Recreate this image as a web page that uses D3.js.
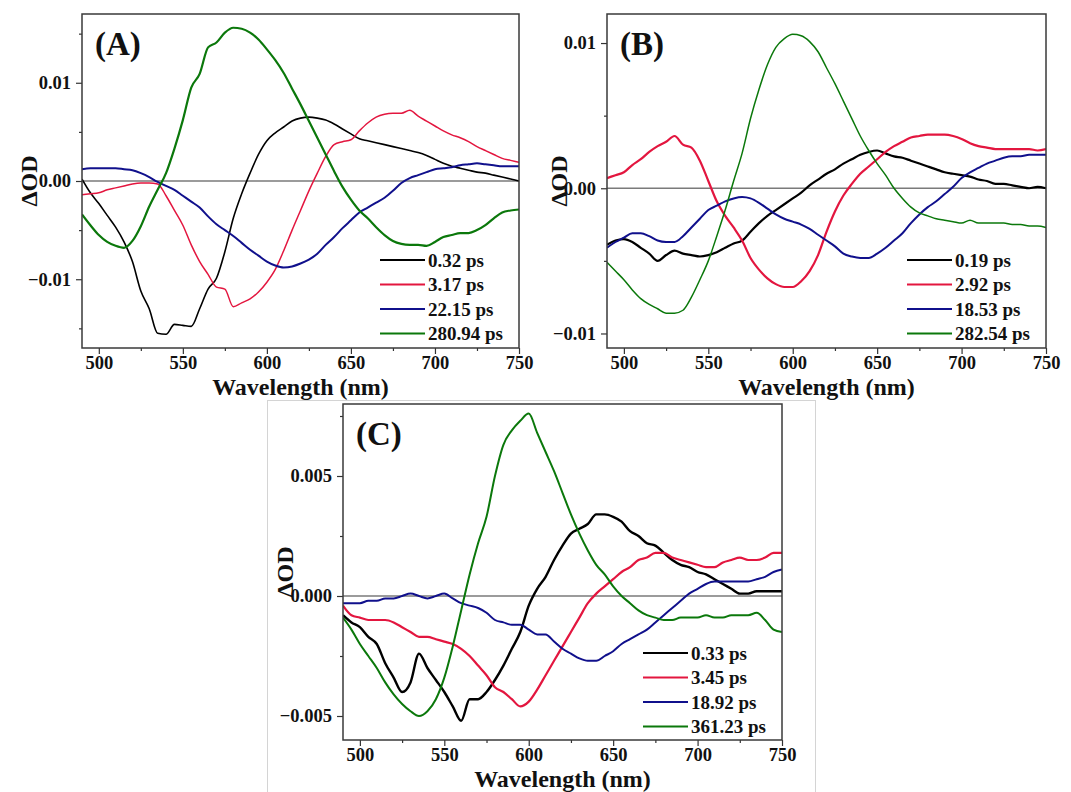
<!DOCTYPE html>
<html>
<head>
<meta charset="utf-8">
<script src="https://cdn.jsdelivr.net/npm/d3@7"></script>
<style>
  html, body { margin: 0; padding: 0; background: #ffffff; }
  svg { display: block; }
</style>
</head>
<body>
<svg id="chart" width="1071" height="792"></svg>
<script>
// ---------------- DATA ----------------
const wavelength = [490,495,500,505,510,515,520,525,530,535,540,545,550,555,560,565,570,575,580,585,590,595,600,605,610,615,620,625,630,635,640,645,650,655,660,665,670,675,680,685,690,695,700,705,710,715,720,725,730,735,740,745,750];

const xTickLabels = [500, 550, 600, 650, 700, 750];
const xMinorTicks = [525, 575, 625, 675, 725];

// Panel A
const labelsA = ["0.32 ps", "3.17 ps", "22.15 ps", "280.94 ps"];
const yTicksA = [-0.01, 0, 0.01];
const yMinorA = [-0.015, -0.005, 0.005, 0.015];
const a_0_32 = [0.0002,-0.0012,-0.0023,-0.0035,-0.0047,-0.0062,-0.0082,-0.0112,-0.0130,-0.0155,-0.0156,-0.0146,-0.0147,-0.0148,-0.0130,-0.0110,-0.0099,-0.0072,-0.0038,-0.0013,0.0008,0.0027,0.0041,0.0049,0.0055,0.0061,0.0064,0.0065,0.0064,0.0062,0.0058,0.0053,0.0048,0.0043,0.0041,0.0039,0.0037,0.0035,0.0033,0.0031,0.0029,0.0026,0.0022,0.0018,0.0015,0.0013,0.0011,0.0009,0.0008,0.0006,0.0004,0.0002,0.0000];
const a_3_17 = [-0.0014,-0.0013,-0.0012,-0.0009,-0.0007,-0.0005,-0.0003,-0.0002,-0.0002,-0.0003,-0.0015,-0.0030,-0.0045,-0.0065,-0.0082,-0.0095,-0.0108,-0.0110,-0.0128,-0.0124,-0.0120,-0.0113,-0.0103,-0.0090,-0.0071,-0.0050,-0.0030,-0.0010,0.0008,0.0025,0.0037,0.0040,0.0042,0.0051,0.0059,0.0065,0.0068,0.0069,0.0069,0.0072,0.0066,0.0061,0.0056,0.0051,0.0047,0.0044,0.0040,0.0035,0.0031,0.0027,0.0023,0.0021,0.0019];
const a_22_15 = [0.0012,0.0013,0.0013,0.0013,0.0013,0.0012,0.0011,0.0008,0.0004,-0.0001,-0.0005,-0.0009,-0.0015,-0.0021,-0.0027,-0.0036,-0.0044,-0.0050,-0.0056,-0.0063,-0.0070,-0.0076,-0.0082,-0.0086,-0.0088,-0.0087,-0.0084,-0.0080,-0.0074,-0.0065,-0.0057,-0.0048,-0.0040,-0.0032,-0.0027,-0.0022,-0.0017,-0.0010,-0.0002,0.0003,0.0006,0.0009,0.0012,0.0013,0.0014,0.0016,0.0017,0.0018,0.0017,0.0016,0.0015,0.0015,0.0015];
const a_280_94 = [-0.0034,-0.0045,-0.0055,-0.0062,-0.0066,-0.0068,-0.0061,-0.0046,-0.0026,-0.0009,0.0008,0.0033,0.0062,0.0095,0.0109,0.0136,0.0141,0.0151,0.0156,0.0155,0.0151,0.0144,0.0134,0.0123,0.0110,0.0094,0.0078,0.0061,0.0044,0.0027,0.0010,-0.0006,-0.0019,-0.0030,-0.0038,-0.0047,-0.0055,-0.0061,-0.0064,-0.0065,-0.0065,-0.0066,-0.0062,-0.0057,-0.0055,-0.0053,-0.0053,-0.0050,-0.0045,-0.0038,-0.0032,-0.0030,-0.0029];

// Panel B
const labelsB = ["0.19 ps", "2.92 ps", "18.53 ps", "282.54 ps"];
const yTicksB = [-0.01, 0, 0.01];
const yMinorB = [-0.005, 0.005];
const b_0_19 = [-0.0039,-0.0036,-0.0035,-0.0037,-0.0041,-0.0045,-0.0050,-0.0046,-0.0043,-0.0045,-0.0046,-0.0047,-0.0046,-0.0044,-0.0041,-0.0038,-0.0036,-0.0030,-0.0024,-0.0019,-0.0015,-0.0011,-0.0007,-0.0003,0.0002,0.0006,0.0010,0.0013,0.0017,0.0020,0.0023,0.0025,0.0026,0.0024,0.0022,0.0021,0.0019,0.0017,0.0015,0.0013,0.0011,0.0010,0.0009,0.0008,0.0006,0.0005,0.0003,0.0003,0.0002,0.0001,0.0000,0.0001,0.0000];
const b_2_92 = [0.0007,0.0009,0.0011,0.0016,0.0020,0.0025,0.0029,0.0032,0.0036,0.0030,0.0028,0.0019,0.0005,-0.0009,-0.0019,-0.0027,-0.0036,-0.0048,-0.0056,-0.0062,-0.0066,-0.0068,-0.0068,-0.0064,-0.0057,-0.0046,-0.0030,-0.0016,-0.0005,0.0003,0.0010,0.0015,0.0020,0.0025,0.0029,0.0032,0.0035,0.0036,0.0037,0.0037,0.0037,0.0036,0.0034,0.0031,0.0029,0.0028,0.0027,0.0027,0.0027,0.0027,0.0027,0.0026,0.0027];
const b_18_53 = [-0.0041,-0.0037,-0.0034,-0.0031,-0.0031,-0.0033,-0.0036,-0.0037,-0.0037,-0.0033,-0.0027,-0.0021,-0.0015,-0.0012,-0.0009,-0.0007,-0.0006,-0.0007,-0.0010,-0.0014,-0.0018,-0.0021,-0.0023,-0.0025,-0.0028,-0.0032,-0.0036,-0.0040,-0.0045,-0.0047,-0.0048,-0.0048,-0.0045,-0.0041,-0.0036,-0.0031,-0.0024,-0.0018,-0.0013,-0.0009,-0.0004,0.0001,0.0007,0.0011,0.0014,0.0017,0.0019,0.0021,0.0022,0.0022,0.0023,0.0023,0.0023];
const b_282_54 = [-0.0051,-0.0057,-0.0063,-0.0070,-0.0076,-0.0080,-0.0083,-0.0086,-0.0086,-0.0084,-0.0075,-0.0063,-0.0050,-0.0033,-0.0015,0.0005,0.0024,0.0048,0.0068,0.0085,0.0097,0.0103,0.0106,0.0105,0.0101,0.0094,0.0083,0.0072,0.0060,0.0048,0.0036,0.0026,0.0017,0.0009,0.0000,-0.0007,-0.0013,-0.0017,-0.0019,-0.0021,-0.0022,-0.0023,-0.0024,-0.0022,-0.0024,-0.0024,-0.0024,-0.0024,-0.0025,-0.0025,-0.0026,-0.0026,-0.0027];

// Panel C
const labelsC = ["0.33 ps", "3.45 ps", "18.92 ps", "361.23 ps"];
const yTicksC = [-0.005, 0, 0.005];
const yMinorC = [-0.0025, 0.0025, 0.0075];
const c_0_33 = [-0.0008,-0.0011,-0.0013,-0.0017,-0.0020,-0.0028,-0.0034,-0.0040,-0.0036,-0.0024,-0.0030,-0.0035,-0.0040,-0.0046,-0.0052,-0.0043,-0.0043,-0.0040,-0.0035,-0.0029,-0.0022,-0.0015,-0.0004,0.0003,0.0008,0.0015,0.0021,0.0026,0.0028,0.0030,0.0034,0.0034,0.0033,0.0031,0.0027,0.0025,0.0022,0.0021,0.0018,0.0015,0.0013,0.0012,0.0010,0.0009,0.0007,0.0005,0.0003,0.0001,0.0001,0.0002,0.0002,0.0002,0.0002];
const c_3_45 = [-0.0004,-0.0008,-0.0009,-0.0010,-0.0010,-0.0010,-0.0011,-0.0013,-0.0015,-0.0017,-0.0017,-0.0018,-0.0019,-0.0020,-0.0022,-0.0025,-0.0029,-0.0033,-0.0038,-0.0040,-0.0043,-0.0046,-0.0044,-0.0039,-0.0033,-0.0027,-0.0021,-0.0015,-0.0009,-0.0003,0.0001,0.0004,0.0007,0.0010,0.0012,0.0015,0.0016,0.0018,0.0018,0.0016,0.0015,0.0014,0.0013,0.0012,0.0012,0.0014,0.0015,0.0016,0.0015,0.0015,0.0016,0.0018,0.0018];
const c_18_92 = [-0.0003,-0.0003,-0.0003,-0.0002,-0.0002,-0.0001,-0.0001,0.0000,0.0001,0.0000,-0.0001,0.0000,0.0001,-0.0001,-0.0003,-0.0004,-0.0005,-0.0007,-0.0010,-0.0011,-0.0012,-0.0012,-0.0014,-0.0016,-0.0016,-0.0019,-0.0022,-0.0024,-0.0026,-0.0027,-0.0027,-0.0025,-0.0023,-0.0020,-0.0018,-0.0016,-0.0014,-0.0011,-0.0008,-0.0005,-0.0002,0.0001,0.0003,0.0005,0.0006,0.0006,0.0006,0.0006,0.0006,0.0007,0.0008,0.0010,0.0011];
const c_361_23 = [-0.0009,-0.0014,-0.0020,-0.0025,-0.0030,-0.0036,-0.0041,-0.0045,-0.0048,-0.0050,-0.0048,-0.0043,-0.0034,-0.0021,-0.0006,0.0009,0.0022,0.0033,0.0050,0.0063,0.0069,0.0073,0.0076,0.0068,0.0060,0.0052,0.0043,0.0034,0.0026,0.0019,0.0013,0.0009,0.0004,0.0000,-0.0003,-0.0006,-0.0008,-0.0009,-0.0010,-0.0010,-0.0009,-0.0009,-0.0009,-0.0008,-0.0009,-0.0009,-0.0008,-0.0008,-0.0008,-0.0007,-0.0010,-0.0014,-0.0015];

// ---------------- STYLE ----------------
const FONT = "'Liberation Serif','Times New Roman',Times,serif";
const COLORS = ["#000000", "#e3163f", "#10108c", "#0b780b"];

const svg = d3.select("#chart");
svg.append("rect").attr("width", 1071).attr("height", 792).attr("fill", "#ffffff");

// frame of the lower inset image
svg.append("rect")
  .attr("x", 267.5).attr("y", 400.5).attr("width", 548).attr("height", 400)
  .attr("fill", "none").attr("stroke", "#d4d4d4").attr("stroke-width", 1);

function drawPanel(cfg) {
  const g = svg.append("g");
  const x = d3.scaleLinear().domain([490, 750]).range([cfg.left, cfg.right]);
  const y = d3.scaleLinear().domain(cfg.yDomain).range([cfg.bottom, cfg.top]);

  const clipId = "clip" + cfg.id;
  svg.append("clipPath").attr("id", clipId)
    .append("rect").attr("x", cfg.left).attr("y", cfg.top)
    .attr("width", cfg.right - cfg.left).attr("height", cfg.bottom - cfg.top);

  // zero line
  g.append("line")
    .attr("x1", cfg.left).attr("x2", cfg.right)
    .attr("y1", y(0)).attr("y2", y(0))
    .attr("stroke", "#7a7a7a").attr("stroke-width", 1.4);

  const line = d3.line()
    .x((d, i) => x(wavelength[i]))
    .y(d => y(d))
    .curve(d3.curveMonotoneX);

  const plot = g.append("g").attr("clip-path", `url(#${clipId})`);
  cfg.series.forEach((s, k) => {
    plot.append("path")
      .datum(s.values)
      .attr("d", line)
      .attr("fill", "none")
      .attr("stroke", COLORS[k])
      .attr("stroke-width", s.width)
      .attr("stroke-linejoin", "round");
  });

  // axes
  const xAxis = g.append("g").attr("transform", `translate(0,${cfg.bottom})`)
    .call(d3.axisBottom(x).tickValues(xTickLabels).tickSize(6).tickPadding(2).tickFormat(d3.format("d")));
  const xMinor = g.append("g").attr("transform", `translate(0,${cfg.bottom})`)
    .call(d3.axisBottom(x).tickValues(xMinorTicks).tickSize(3).tickFormat(""));
  const yAxis = g.append("g").attr("transform", `translate(${cfg.left},0)`)
    .call(d3.axisLeft(y).tickValues(cfg.yTicks).tickSize(6).tickPadding(5).tickFormat(cfg.yFormat));
  const yMinor = g.append("g").attr("transform", `translate(${cfg.left},0)`)
    .call(d3.axisLeft(y).tickValues(cfg.yMinor).tickSize(3).tickFormat(""));

  [xAxis, xMinor, yAxis, yMinor].forEach(a => {
    a.select(".domain").remove();
    a.selectAll("line").attr("stroke", "#333").attr("stroke-width", 1.2);
    a.selectAll("text")
      .attr("font-family", FONT).attr("font-weight", "bold")
      .attr("font-size", 18.5).attr("fill", "#111");
  });

  // frame
  g.append("rect")
    .attr("x", cfg.left).attr("y", cfg.top)
    .attr("width", cfg.right - cfg.left).attr("height", cfg.bottom - cfg.top)
    .attr("fill", "none").attr("stroke", "#3a3a3a").attr("stroke-width", 1.5);

  // axis titles
  g.append("text")
    .attr("x", (cfg.left + cfg.right) / 2).attr("y", cfg.bottom + 47)
    .attr("text-anchor", "middle")
    .attr("font-family", FONT).attr("font-weight", "bold").attr("font-size", 24)
    .attr("fill", "#111")
    .text("Wavelength (nm)");

  g.append("text")
    .attr("transform", `translate(${cfg.yTitleX},${(cfg.top + cfg.bottom) / 2}) rotate(-90)`)
    .attr("text-anchor", "middle").attr("dominant-baseline", "central")
    .attr("font-family", FONT).attr("font-weight", "bold").attr("font-size", 24)
    .attr("fill", "#111")
    .text("ΔOD");

  // panel letter
  g.append("text")
    .attr("x", cfg.left + 13).attr("y", cfg.top + 41)
    .attr("font-family", FONT).attr("font-weight", "bold").attr("font-size", 33)
    .attr("fill", "#111")
    .text(cfg.label);

  // legend
  const lx = cfg.right - 139;
  cfg.series.forEach((s, k) => {
    const ly = cfg.legendTop + k * 24.5;
    g.append("line")
      .attr("x1", lx).attr("x2", lx + 45)
      .attr("y1", ly).attr("y2", ly)
      .attr("stroke", COLORS[k]).attr("stroke-width", 2);
    g.append("text")
      .attr("x", lx + 48).attr("y", ly + 6.5)
      .attr("font-family", FONT).attr("font-weight", "bold").attr("font-size", 19)
      .attr("fill", "#111")
      .text(cfg.legend[k]);
  });
}

const fmt2 = d => d === 0 ? "0.00" : d3.format(".2f")(d);
const fmt3 = d => d === 0 ? "0.000" : d3.format(".3f")(d);

drawPanel({
  id: "A", label: "(A)", left: 82, right: 519, top: 14, bottom: 348,
  yDomain: [-0.017, 0.017], yTicks: yTicksA, yMinor: yMinorA, yFormat: fmt2,
  yTitleX: 29, legendTop: 260, legend: labelsA,
  series: [
    { values: a_0_32, width: 1.6 },
    { values: a_3_17, width: 1.5 },
    { values: a_22_15, width: 2.0 },
    { values: a_280_94, width: 2.2 }
  ]
});

drawPanel({
  id: "B", label: "(B)", left: 607, right: 1046, top: 14, bottom: 348,
  yDomain: [-0.011, 0.012], yTicks: yTicksB, yMinor: yMinorB, yFormat: fmt2,
  yTitleX: 559, legendTop: 260, legend: labelsB,
  series: [
    { values: b_0_19, width: 2.2 },
    { values: b_2_92, width: 2.2 },
    { values: b_18_53, width: 2.0 },
    { values: b_282_54, width: 1.5 }
  ]
});

drawPanel({
  id: "C", label: "(C)", left: 343, right: 782, top: 404, bottom: 740,
  yDomain: [-0.006, 0.008], yTicks: yTicksC, yMinor: yMinorC, yFormat: fmt3,
  yTitleX: 285, legendTop: 653, legend: labelsC,
  series: [
    { values: c_0_33, width: 2.4 },
    { values: c_3_45, width: 2.2 },
    { values: c_18_92, width: 2.0 },
    { values: c_361_23, width: 2.0 }
  ]
});
</script>
</body>
</html>
